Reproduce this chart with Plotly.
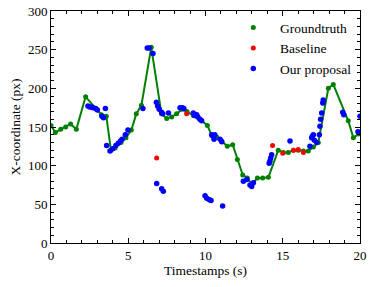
import plotly.graph_objects as go

# Groundtruth
gt_t = [0.0, 0.28, 0.63, 0.95, 1.27, 1.64, 2.24, 3.26, 3.58, 3.88, 4.15, 4.53, 4.85, 5.2,
        5.52, 5.85, 6.49, 7.15, 7.49, 7.81, 8.13, 8.5, 8.8, 9.21, 9.64, 10.12, 10.4, 10.72,
        11.05, 11.41, 11.76, 12.06, 12.41, 12.71, 13.0, 13.36, 13.7, 14.07, 14.71, 15.04,
        15.36, 15.69, 16.0, 16.34, 16.65, 16.98, 17.3, 17.95, 18.27, 19.24, 19.57, 19.9]
gt_v = [152, 143, 147, 150, 154, 147, 189, 166, 164, 120, 123, 130, 136, 146,
        167, 178, 253, 167, 161, 163, 167, 173, 170, 165, 160, 152, 139, 137,
        132, 125, 127, 108, 88, 84, 76, 84, 84, 85, 120, 117,
        117, 120, 120, 119, 119, 124, 130, 200, 205, 158, 136, 141]

# Baseline
bl_t = [6.84, 8.78, 14.34, 15.0, 15.69, 16.0, 16.34]
bl_v = [110, 167, 126, 116, 120, 121, 117]

# Our proposal
op_t = [2.39, 2.5, 2.6, 2.72, 2.89, 3.0, 3.3, 3.4, 3.52, 3.6, 3.82, 4.0, 4.2, 4.35, 4.5,
        4.6, 4.81, 4.98, 5.95, 6.23, 6.35, 6.6, 6.82, 6.9, 7.0, 7.16, 7.23, 7.6, 6.84,
        7.16, 7.27, 8.35, 8.5, 8.6, 9.21, 9.3, 9.43, 9.5, 9.64, 9.75, 9.97, 10.08, 10.25,
        10.36, 11.11, 10.4, 10.5, 10.6, 10.55, 10.94, 11.05, 12.45, 12.67, 12.88, 12.99,
        13.1, 14.12, 14.17, 14.22, 14.28, 15.47, 16.76, 16.87, 16.92, 16.98, 17.05, 17.2,
        17.37, 17.41, 17.45, 17.52, 17.59, 17.62, 18.88, 18.95, 19.87, 20.0]
op_v = [177, 176, 176, 175, 174, 172, 164, 162, 174, 126, 119, 122, 126, 129, 132,
        134, 140, 146, 174, 252, 252, 245, 182, 177, 173, 169, 167, 168, 77,
        70, 67, 175, 175, 174, 168, 165, 166, 163, 160, 158, 61, 58, 56,
        55, 48, 140, 138, 140, 134, 134, 131, 80, 82, 75, 73,
        78, 103, 106, 110, 114, 132, 125, 136, 138, 140, 133, 130,
        140, 151, 160, 168, 181, 185, 169, 166, 144, 164]

x_ticks = [0, 5, 10, 15, 20]
y_ticks = [0, 50, 100, 150, 200, 250, 300]

FONT = "Liberation Serif"
GREEN = "#008000"
NB = "\u00a0\u00a0"

fig = go.Figure()
fig.add_trace(go.Scatter(x=gt_t, y=gt_v, mode="lines+markers", name="Groundtruth",
                         showlegend=False,
                         line=dict(color=GREEN, width=2),
                         marker=dict(color=GREEN, size=5)))
# legend-only entry (marker only, as in the reference)
fig.add_trace(go.Scatter(x=[None], y=[None], mode="markers", name=NB + "Groundtruth",
                         marker=dict(color=GREEN, size=5)))
fig.add_trace(go.Scatter(x=bl_t, y=bl_v, mode="markers", name=NB + "Baseline",
                         marker=dict(color="#ff0000", size=5)))
fig.add_trace(go.Scatter(x=op_t, y=op_v, mode="markers", name=NB + "Our proposal",
                         marker=dict(color="#0000ff", size=5.5)))

axis_common = dict(showline=True, linecolor="black", linewidth=1, mirror="ticks",
                   ticks="inside", ticklen=5, tickcolor="black", showgrid=False,
                   zeroline=False, tickfont=dict(family=FONT, size=13, color="black"))

fig.update_xaxes(range=[0, 20], tickvals=x_ticks, ticktext=[str(v) for v in x_ticks],
                 minor=dict(ticks="inside", dtick=1, ticklen=3, tickcolor="black"),
                 title=dict(text="Timestamps (s)", font=dict(family=FONT, size=13.5, color="black"),
                            standoff=3),
                 **axis_common)
fig.update_yaxes(range=[0, 300], tickvals=y_ticks, ticktext=[str(v) for v in y_ticks],
                 minor=dict(ticks="inside", dtick=10, ticklen=3, tickcolor="black"),
                 title=dict(text="X-coordinate (px)", font=dict(family=FONT, size=13.5, color="black"),
                            standoff=4),
                 **axis_common)

fig.update_layout(
    width=374, height=287,
    margin=dict(l=51, r=14, t=11, b=44, autoexpand=False),
    plot_bgcolor="white", paper_bgcolor="white",
    font=dict(family=FONT, size=13, color="black"),
    legend=dict(x=0.59, y=0.995, xanchor="left", yanchor="top",
                bgcolor="rgba(255,255,255,0)", borderwidth=0,
                font=dict(family=FONT, size=13.5, color="black"),
                itemwidth=30, tracegroupgap=0),
)

fig.write_html("out.html", config={"displayModeBar": False},
               post_script="document.body.style.margin='0';")
